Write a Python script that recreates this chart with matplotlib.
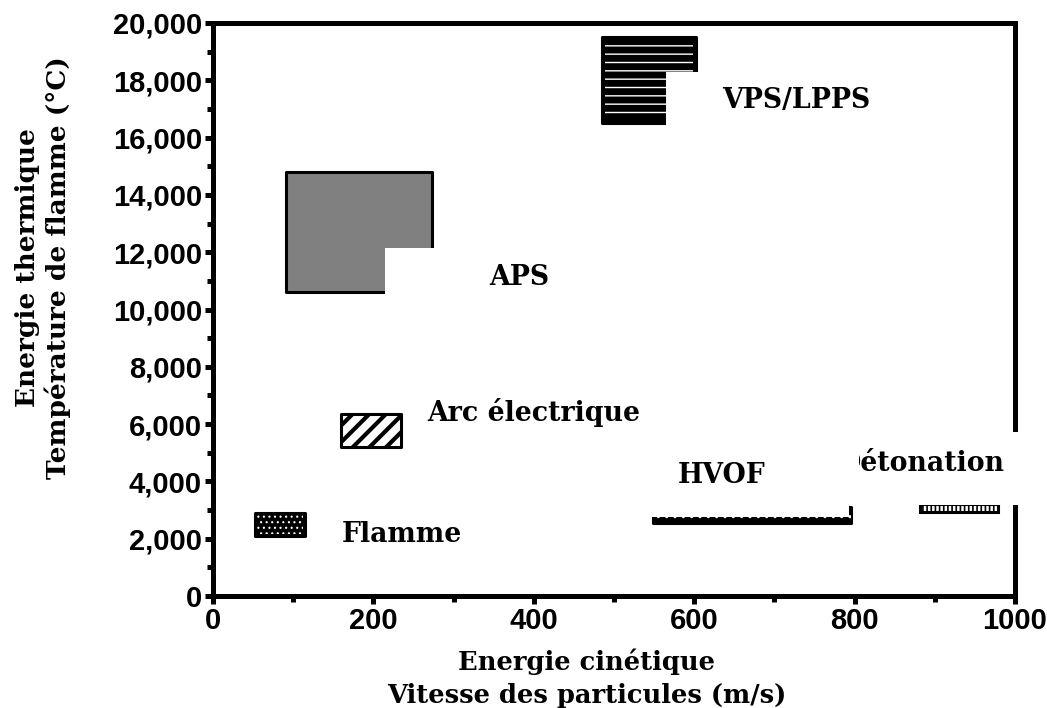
import os
import matplotlib
matplotlib.use("Agg")
import matplotlib.pyplot as plt
import matplotlib.font_manager as fm
from matplotlib.patches import Rectangle
from matplotlib.ticker import MultipleLocator, FuncFormatter

# ---- data ----
processes = ["Flamme", "Arc électrique", "APS", "VPS/LPPS", "HVOF", "Détonation"]
vel_min = [52, 160, 91, 485, 549, 881]      # m/s
vel_max = [115, 235, 273, 602, 796, 979]
temp_min = [2100, 5200, 10600, 16500, 2550, 2930]   # °C
temp_max = [2900, 6350, 14800, 19500, 3100, 3200]
label_x = [161, 267, 344, 635, 580, 779]
label_y = [2150, 6390, 11130, 17280, 4220, 4640]

x_ticks = [0, 200, 400, 600, 800, 1000]
y_ticks = list(range(0, 20001, 2000))

# tick-label font: real Liberation Sans Bold file
tick_fp = None
for f in fm.findSystemFonts():
    if os.path.basename(f).lower() == "liberationsans-bold.ttf":
        tick_fp = fm.FontProperties(fname=f, size=21)
        break
if tick_fp is None:
    tick_fp = fm.FontProperties(family="DejaVu Sans", weight="bold", size=19)

W, H = 1047, 708
fig = plt.figure(figsize=(W / 100, H / 100), dpi=100)
ax = fig.add_axes([213 / W, 1 - 596 / H, (1015 - 213) / W, (596 - 23) / H])
ax.set_xlim(0, 1000)
ax.set_ylim(0, 20000)

serif = dict(family="DejaVu Serif", weight="bold")

for s in ax.spines.values():
    s.set_linewidth(3.6)
ax.set_xticks(x_ticks)
ax.set_yticks(y_ticks)
ax.xaxis.set_minor_locator(MultipleLocator(100))
ax.yaxis.set_minor_locator(MultipleLocator(1000))
ax.yaxis.set_major_formatter(FuncFormatter(lambda v, p: f"{v:,.0f}"))
ax.tick_params(which="major", direction="out", length=6, width=3.6, pad=2,
               top=False, right=False)
ax.tick_params(which="minor", direction="out", length=4, width=3.6,
               top=False, right=False)
for lab in ax.get_xticklabels() + ax.get_yticklabels():
    lab.set_fontproperties(tick_fp)

lw = 2.2
# Flamme: black with white dots
i = 0
ax.add_patch(Rectangle((vel_min[i], temp_min[i]), vel_max[i] - vel_min[i],
                       temp_max[i] - temp_min[i], facecolor="black",
                       edgecolor="black", lw=lw, joinstyle="round", zorder=2))
plt.rcParams["hatch.linewidth"] = 0.8
ax.add_patch(Rectangle((vel_min[i] + 3, temp_min[i] + 80),
                       vel_max[i] - vel_min[i] - 6,
                       temp_max[i] - temp_min[i] - 160, facecolor="none",
                       edgecolor="white", hatch="...", lw=0, zorder=2.1))

# Arc électrique: diagonal stripes
i = 1
plt.rcParams["hatch.linewidth"] = 3.0
ax.add_patch(Rectangle((vel_min[i], temp_min[i]), vel_max[i] - vel_min[i],
                       temp_max[i] - temp_min[i], facecolor="white",
                       edgecolor="black", hatch="//", lw=lw,
                       joinstyle="round", zorder=2))

# APS: grey block with white cut-out
i = 2
ax.add_patch(Rectangle((vel_min[i], temp_min[i]), vel_max[i] - vel_min[i],
                       temp_max[i] - temp_min[i], facecolor="#808080",
                       edgecolor="black", lw=lw, joinstyle="round", zorder=2))
ax.add_patch(Rectangle((214, 10300), 80, 12150 - 10300, facecolor="white",
                       edgecolor="none", zorder=2.2))

# VPS/LPPS: horizontal lines
i = 3
ax.add_patch(Rectangle((vel_min[i], temp_min[i]), vel_max[i] - vel_min[i],
                       temp_max[i] - temp_min[i], facecolor="black",
                       edgecolor="black", lw=lw, joinstyle="round", zorder=2))
plt.rcParams["hatch.linewidth"] = 1.0
ax.add_patch(Rectangle((vel_min[i] + 4, temp_min[i] + 120),
                       vel_max[i] - vel_min[i] - 8,
                       temp_max[i] - temp_min[i] - 240, facecolor="none",
                       edgecolor="white", hatch="--", lw=0, zorder=2.1))
ax.add_patch(Rectangle((565, 16300), 50, 18300 - 16300, facecolor="white",
                       edgecolor="none", zorder=2.2))

# HVOF: mostly hidden behind white box
i = 4
ax.add_patch(Rectangle((vel_min[i], temp_min[i]), vel_max[i] - vel_min[i],
                       temp_max[i] - temp_min[i], facecolor="black",
                       edgecolor="black", lw=lw, joinstyle="round", zorder=2))
plt.rcParams["hatch.linewidth"] = 1.0
ax.add_patch(Rectangle((vel_min[i], temp_min[i]), vel_max[i] - vel_min[i],
                       temp_max[i] - temp_min[i], facecolor="none",
                       edgecolor="white", hatch="..", lw=0, zorder=2.1))
ax.add_patch(Rectangle((540, 2760), 793 - 540, 1200, facecolor="white",
                       edgecolor="none", zorder=2.2))

# Détonation
i = 5
plt.rcParams["hatch.linewidth"] = 1.2
ax.add_patch(Rectangle((vel_min[i], temp_min[i]), vel_max[i] - vel_min[i],
                       temp_max[i] - temp_min[i], facecolor="white",
                       edgecolor="black", hatch="||||", lw=lw, zorder=2))

# labels of processes
for name, lx, ly in zip(processes[:5], label_x[:5], label_y[:5]):
    ax.text(lx, ly, name, ha="left", va="center", fontsize=19.3, zorder=2.5,
            **serif)

# white box hiding part of right spine and the "D"
ax.add_patch(Rectangle((798, 3176), 240, 5724 - 3176, facecolor="white",
                       edgecolor="none", zorder=3, clip_on=False))
ax.text(label_x[5], label_y[5], processes[5], ha="left", va="center",
        fontsize=19.3, zorder=3.1, clip_on=False, **serif)
ax.add_patch(Rectangle((label_x[5] - 5, 4000), 798 + 12 - label_x[5], 1300,
                       facecolor="white", edgecolor="none", zorder=3.2))

# axis labels
fig.text(587 / W, 1 - 662 / H, "Energie cinétique", ha="center",
         va="center", fontsize=18.5, **serif)
fig.text(587 / W, 1 - 695 / H, "Vitesse des particules (m/s)", ha="center",
         va="center", fontsize=18.5, **serif)
fig.text(28 / W, 1 - 268 / H, "Energie thermique", ha="center",
         va="center", rotation=90, fontsize=19, **serif)
fig.text(58 / W, 1 - 268 / H, "Température de flamme (°C)", ha="center",
         va="center", rotation=90, fontsize=19, **serif)

fig.savefig("out.png", dpi=100)
